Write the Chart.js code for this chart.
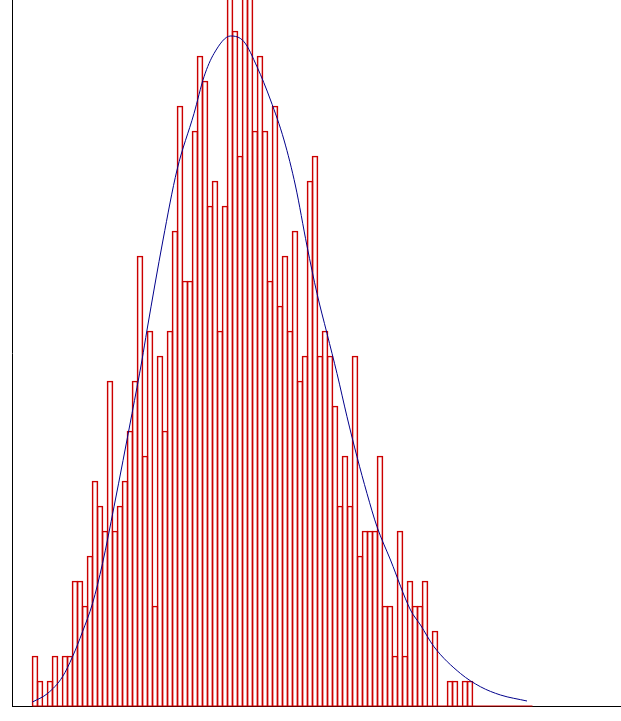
<!DOCTYPE html>
<html>
<head>
<meta charset="utf-8">
<script src="https://cdn.jsdelivr.net/npm/chart.js@4/dist/chart.umd.min.js"></script>
<style>
    body { margin: 0; background: #fff; }
    #wrap { width: 621px; height: 721px; }
</style>
</head>
<body>
<div id="wrap"><canvas id="histChart" width="621" height="721"></canvas></div>
<script>
// 히스토그램 빈도 (구간 100개)
const binCounts = [
    2, 1, 0, 1, 2, 0, 2, 2, 5, 5,
    4, 6, 9, 8, 7, 13, 7, 8, 9, 11,
    13, 18, 10, 15, 4, 14, 11, 15, 19, 24,
    17, 17, 23, 26, 25, 20, 21, 15, 20, 30,
    27, 22, 30, 30, 23, 26, 23, 17, 24, 16,
    18, 15, 19, 13, 14, 21, 22, 14, 15, 14,
    12, 8, 10, 8, 14, 6, 7, 7, 7, 10,
    4, 4, 2, 7, 2, 5, 4, 4, 5, 0,
    3, 0, 0, 1, 1, 0, 1, 1, 0, 0,
    0, 0, 0, 0, 0, 0, 0, 0, 0, 0
];

// 적합 곡선 (그림에서 읽은 점)
const curveX = [0, 3, 6, 8, 10, 12, 14, 16.3, 19.9, 21.9, 22.9, 26.1, 28.9, 32.3, 34.3, 36.3,
    39.6, 42.3, 44.9, 47.6, 50.3, 52.6, 54.9, 56.9, 58.9, 60.9, 62.9, 64.9, 66.9, 68.9,
    71.6, 75.6, 77.6, 80.3, 85.6, 89.6, 93.6, 98.9];
const curveY = [0.16, 0.5, 1.17, 1.97, 2.97, 4.1, 5.7, 7.97, 11.7, 13.84, 15.04, 18.64, 21.44, 23.7, 25.17, 26.1,
    26.8, 26.57, 25.57, 24.24, 22.64, 20.8, 18.4, 16.5, 14.9, 13.3, 11.57, 9.97, 8.5, 7.17,
    5.84, 3.84, 3.24, 2.37, 1.3, 0.77, 0.44, 0.2];

const barData = binCounts.map((c, i) => ({ x: i + 0.5, y: c }));
const curveData = curveX.map((x, i) => ({ x: x, y: curveY[i] }));
const baseData = [{ x: 0, y: 0 }, { x: binCounts.length, y: 0 }];

const ctx = document.getElementById('histChart').getContext('2d');
new Chart(ctx, {
    type: 'bar',
    data: {
        datasets: [{
            type: 'line',
            data: curveData,
            borderColor: '#00008b',
            borderWidth: 1,
            pointRadius: 0,
            cubicInterpolationMode: 'monotone',
            clip: false,
            order: 0
        }, {
            type: 'line',
            data: baseData,
            borderColor: '#cc0000',
            borderWidth: 1,
            pointRadius: 0,
            clip: false,
            order: 1
        }, {
            type: 'bar',
            data: barData,
            backgroundColor: 'rgba(255,255,255,0)',
            borderColor: '#cc0000',
            borderWidth: 1,
            borderSkipped: 'start',
            barThickness: 6,
            grouped: false,
            order: 2
        }]
    },
    options: {
        responsive: false,
        devicePixelRatio: 1,
        animation: false,
        layout: { padding: { left: 12, right: 0, top: 0, bottom: 15 } },
        plugins: { legend: { display: false }, tooltip: { enabled: false } },
        scales: {
            x: {
                type: 'linear',
                offset: false,
                min: -4.1,
                max: 117.7,
                grid: { display: false, drawTicks: false, offset: false },
                ticks: { display: false },
                border: { display: true, color: '#000', width: 1 }
            },
            y: {
                min: 0,
                max: 28.24,
                grid: { display: false, drawTicks: false },
                ticks: { display: false },
                border: { display: true, color: '#000', width: 1 }
            }
        }
    }
});
</script>
</body>
</html>
